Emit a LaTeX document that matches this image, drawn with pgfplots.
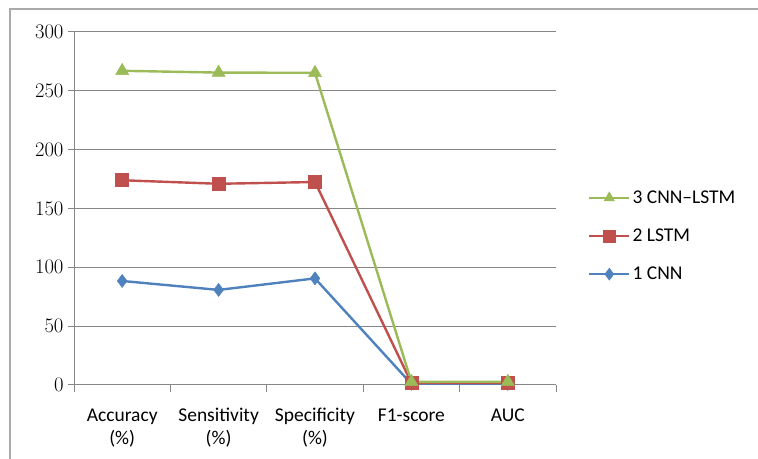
\documentclass[border=0pt]{standalone}
\usepackage{fontspec}
\setmainfont{Carlito}
\usepackage{pgfplots}
\pgfplotsset{compat=1.18}
\definecolor{cblue}{HTML}{4F81BD}
\definecolor{cred}{HTML}{C0504D}
\definecolor{cgreen}{HTML}{9BBB59}
\definecolor{gridgray}{HTML}{868686}
\begin{document}
\begin{tikzpicture}[x=1bp,y=1bp]
\path[use as bounding box] (0,0) rectangle (758,459);
\draw[color=gridgray!70, line width=1.2bp] (10,-10) -- (10,450) -- (780,450);
\begin{axis}[
  at={(74bp,74bp)}, anchor=south west,
  scale only axis, width=482bp, height=353bp,
  xmin=-0.5, xmax=4.5, ymin=0, ymax=300,
  ytick={0,50,...,300},
  xtick={0,1,2,3,4},
  xticklabels={{Accuracy\\(\%)},{Sensitivity\\(\%)},{Specificity\\(\%)},{F1-score},{AUC}},
  minor xtick={-0.5,0.5,1.5,2.5,3.5,4.5},
  major x tick style={draw=none},
  minor x tick style={gridgray, line width=1bp},
  minor tick length=7bp,
  major tick length=6bp,
  tick align=outside,
  ymajorgrids, major grid style={gridgray, line width=1bp},
  y tick style={gridgray, line width=1bp},
  axis x line*=bottom, axis y line*=left,
  axis line style={gridgray, line width=1bp, -},
  xticklabel style={align=center, font=\fontsize{19.5bp}{23bp}\selectfont, yshift=-14bp},
  yticklabel style={font=\fontsize{19.5bp}{20bp}\selectfont, color=black, xshift=-1bp},
  every tick label/.append style={text=black},
  legend style={draw=none, fill=none, at={(1.066,0.422)}, anchor=west, font=\fontsize{19.5bp}{20bp}\selectfont, row sep=20bp, inner sep=0pt, cells={anchor=west}},
  legend cell align=left,
  reverse legend,
  legend image code/.code={\draw[mark repeat=2,mark phase=2,#1,line width=2.6bp,mark size=6bp] plot coordinates {(0bp,0bp) (20bp,0bp) (40bp,0bp)};},
  every axis plot/.append style={line width=2.4bp},
]
\addplot[color=cblue, mark=diamond*, mark size=6.5bp, mark options={fill=cblue, line width=0.5bp}] coordinates {(0,88.4) (1,80.8) (2,90.6) (3,0.9) (4,0.92)};
\addlegendentry{1 CNN}
\addplot[color=cred, mark=square*, mark size=6.5bp, mark options={fill=cred, line width=0.5bp}] coordinates {(0,174) (1,171) (2,172.5) (3,1.8) (4,1.85)};
\addlegendentry{2 LSTM}
\addplot[color=cgreen, mark=triangle*, mark size=7.5bp, mark options={fill=cgreen, line width=0.5bp}] coordinates {(0,267) (1,265.5) (2,265.3) (3,2.7) (4,2.75)};
\addlegendentry{3 CNN–LSTM}
\end{axis}
\end{tikzpicture}
\end{document}
